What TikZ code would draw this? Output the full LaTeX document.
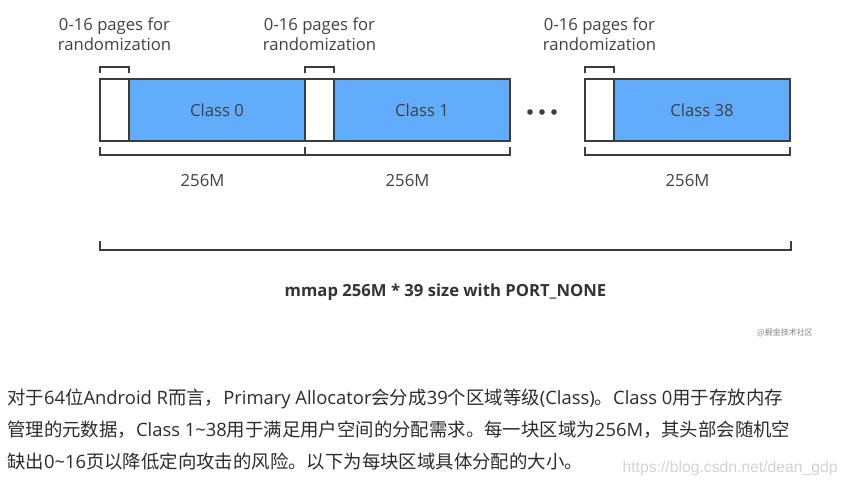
\documentclass[tikz,border=0pt]{standalone}
\usepackage{fontspec}
\setmainfont{Open Sans}
\newfontfamily\cjk{Noto Sans CJK SC}
\newfontfamily\lat{Open Sans}
\newfontfamily\urlfont{Liberation Sans}
\usetikzlibrary{positioning}
\definecolor{classblue}{HTML}{62ACFC}
\definecolor{edgegray}{HTML}{3C3C3C}
\definecolor{textgray}{HTML}{404040}
\definecolor{paratext}{HTML}{2B2B2B}

\begin{document}
\begin{tikzpicture}[x=0.75pt, y=-0.75pt,
    pad/.style={draw=edgegray, line width=1.5pt, fill=white, minimum width=21.75pt,
        minimum height=46.5pt, inner sep=0pt, outer sep=0pt},
    cls/.style={pad, fill=classblue, minimum width=132pt, text=textgray,
        font=\fontsize{12.5}{15}\selectfont},
    bracket/.style={draw=edgegray, line width=1.5pt},
    lbl/.style={text=textgray, font=\fontsize{12.5}{15}\selectfont, align=center, inner sep=0pt},
    para/.style={text=paratext, font=\cjk\fontsize{13.8}{16}\selectfont, anchor=west, inner sep=0pt}]
    \useasboundingbox (0,0) rectangle (849,487);

    % the three regions
    \node[pad] (pad0) at (114.5,110) {};
    \node[cls, right=0pt of pad0] (class0) {Class 0};
    \node[pad, right=0pt of class0] (pad1) {};
    \node[cls, right=0pt of pad1] (class1) {Class 1};
    \node[pad] (pad38) at (599.5,110) {};
    \node[cls, right=0pt of pad38] (class38) {Class 38};

    \foreach \x in {530,542,554}
        \fill[edgegray] (\x,112) circle (2.8);

    % random pages above each region
    \foreach \p in {pad0,pad1,pad38} {
        \draw[bracket] ([yshift=4.5pt]\p.north west) -- ++(0,-6) -| ([yshift=4.5pt]\p.north east);
        \node[lbl, above=21pt of \p] (\p-lbl) {0-16 pages for\\randomization};
    }

    % 256M below each region
    \foreach \p/\c in {pad0/class0,pad1/class1,pad38/class38} {
        \draw[bracket] ([yshift=-4.5pt]\p.south west) -- ++(0,8)
            -| ([yshift=-4.5pt]\c.south east) coordinate[pos=0.25] (\c-mid);
        \node[lbl, below=14pt of \c-mid] (\c-size) {256M};
    }

    % whole mapping
    \coordinate (all-l) at (100,241);
    \coordinate (all-r) at (791,241);
    \draw[bracket] (all-l) -- ++(0,9) -| (all-r) coordinate[pos=0.25] (all-mid);
    \node[lbl, text=black!80, font=\bfseries\fontsize{12.5}{15}\selectfont, below=25pt of all-mid] (total)
        {mmap 256M * 39 size with PORT\_NONE};

    \node[text=gray, font=\cjk\fontsize{6}{6}\selectfont, inner sep=0pt] (juejin) at (785,333) {@掘金技术社区};

    % text below the picture
    \node[para] (line1) at (7,399) {对于{\lat 64}位{\lat Android R}而言，{\lat Primary Allocator}会分成{\lat 39}个区域等级{\lat (Class)}。{\lat Class 0}用于存放内存};
    \node[para] (line2) at (7,430) {管理的元数据，{\lat Class 1\textasciitilde38}用于满足用户空间的分配需求。每一块区域为{\lat 256M}，其头部会随机空};
    \node[para] (line3) at (7,461) {缺出{\lat 0\textasciitilde16}页以降低定向攻击的风险。以下为每块区域具体分配的大小。};

    \node[text=gray!35, font=\urlfont\fontsize{11.8}{14}\selectfont, anchor=east, inner sep=0pt] (csdn)
        at (838,468) {https://blog.csdn.net/dean\_gdp};
\end{tikzpicture}
\end{document}
